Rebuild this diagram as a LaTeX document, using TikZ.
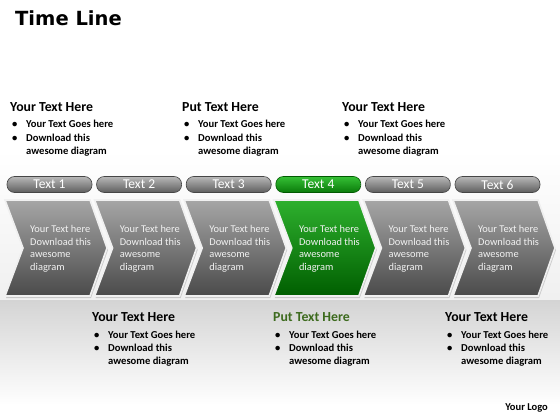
\documentclass[tikz,border=0pt]{standalone}
\usepackage{fontspec}
\setmainfont{Carlito}
\newfontfamily\titlefont{DejaVu Sans}
\usetikzlibrary{shadows}
\definecolor{chevtop}{HTML}{A6A6A6}
\definecolor{chevbot}{HTML}{4A4A4A}
\definecolor{grntop}{HTML}{2EB02E}
\definecolor{grnbot}{HTML}{005E00}
\definecolor{pilltop}{HTML}{B8B8B8}
\definecolor{pillbot}{HTML}{5E5E5E}
\definecolor{gpilltop}{HTML}{35C035}
\definecolor{gpillbot}{HTML}{0A7A0A}
\definecolor{headgreen}{HTML}{3D6B1E}
\definecolor{bandgray}{HTML}{D4D4D4}
\definecolor{chevtext}{HTML}{F2F2F2}
\tikzset{
  chevgray/.style={top color=chevtop, bottom color=chevbot, draw=white!88!gray, line width=1.6pt, line join=miter},
  chevgreen/.style={top color=grntop, bottom color=grnbot, draw=white!88!gray, line width=1.6pt, line join=miter},
  pillbox/.style={rounded corners=7.5pt, minimum width=85pt, minimum height=16pt, inner sep=0pt,
     top color=pilltop, bottom color=pillbot, draw=gray!55!black, line width=0.6pt,
     text=white, font=\fontsize{13.5}{14}\selectfont},
  gpillbox/.style={pillbox, top color=gpilltop, bottom color=gpillbot, draw=green!35!black},
  chevtxt/.style={anchor=north west, align=left, inner sep=0pt, text=chevtext,
     font=\fontsize{10.4}{12.4}\selectfont},
  headtxt/.style={anchor=base west, inner sep=0pt, font=\bfseries\fontsize{13.8}{15}\selectfont},
  bultxt/.style={anchor=base west, inner sep=0pt, font=\bfseries\fontsize{10.6}{12}\selectfont},
}
\newcommand{\infoblk}[5]{% x y title color name
  \node[headtxt, text=#4] (#5h) at (#1,#2) {#3};
  \node[bultxt] (#5b1) at (#1+2,#2+17) {•};
  \node[bultxt] (#5t1) at (#1+16,#2+17) {Your Text Goes here};
  \node[bultxt] (#5b2) at (#1+2,#2+30) {•};
  \node[bultxt] (#5t2) at (#1+16,#2+30) {Download this};
  \node[bultxt] (#5t3) at (#1+16,#2+43) {awesome diagram};
}
\begin{document}
\begin{tikzpicture}[x=1pt,y=-1pt]
\useasboundingbox (0,0) rectangle (560,420);
% background
\fill[white] (0,0) rectangle (560,420);
\shade[top color=white, bottom color=gray!12] (0,150) rectangle (560,300);
\shade[top color=bandgray, bottom color=white] (0,300) rectangle (560,405);
% title
\node[anchor=base west, inner sep=0pt, font=\titlefont\bfseries\fontsize{19.5}{21}\selectfont] (title) at (15,26) {Time Line};
% top blocks
\infoblk{10}{111}{Your Text Here}{black}{ta}
\infoblk{182}{111}{Put Text Here}{black}{tb}
\infoblk{342}{111}{Your Text Here}{black}{tc}
% pills and chevrons
\foreach \i in {0,...,5}{
  \pgfmathsetmacro{\L}{5+89.6*\i}
  \pgfmathtruncatemacro{\n}{\i+1}
  \ifnum\i=3
    \def\cs{chevgreen}\def\ps{gpillbox}
  \else
    \def\cs{chevgray}\def\ps{pillbox}
  \fi
  \path[\cs, drop shadow={opacity=0.35, shadow xshift=1pt, shadow yshift=-2pt}]
     (\L,200) -- (\L+85,200) -- (\L+102,248) -- (\L+85,296) -- (\L,296) -- (\L+18,248) -- cycle;
  \node[\ps] (p\n) at (\L+44.5,184.5) {Text \n};
  \node[chevtxt] (c\n) at (\L+25,225.5) {Your Text here\\Download this\\awesome\\diagram};
}
% bottom blocks
\infoblk{92}{321}{Your Text Here}{black}{ba}
\infoblk{273}{321}{Put Text Here}{headgreen}{bb}
\infoblk{445}{321}{Your Text Here}{black}{bc}
\node[anchor=base east, inner sep=0pt, font=\bfseries\fontsize{10.5}{12}\selectfont] (logo) at (548,410) {Your Logo};
\end{tikzpicture}
\end{document}
